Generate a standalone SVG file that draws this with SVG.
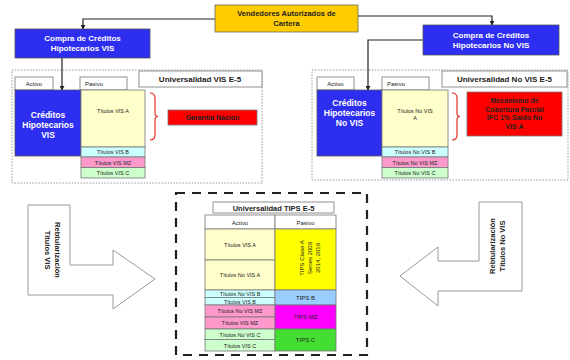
<svg xmlns="http://www.w3.org/2000/svg" width="570" height="360" viewBox="0 0 570 360">
<defs>
<marker id="ah" viewBox="0 0 6 6" refX="5" refY="3" markerWidth="5" markerHeight="5" orient="auto" markerUnits="userSpaceOnUse"><path d="M0,0 L6,3 L0,6 z" fill="#222"/></marker>
</defs>
<style>
text{font-family:"Liberation Sans",Arial,sans-serif;}
.b{font-weight:bold;}
.blue{fill:#2e2ef0;stroke:#555;stroke-width:0.8;}
.wt{fill:#fff;font-weight:bold;text-anchor:middle;}
.dt{fill:#222;text-anchor:middle;}
.cell{stroke:#777;stroke-width:0.8;}
.tab{fill:#fff;stroke:#777;stroke-width:0.8;}
.dot{fill:none;stroke:#999;stroke-width:1;stroke-dasharray:1.5,1.5;}
.conn{fill:none;stroke:#222;stroke-width:1.2;}
.ya{fill:#ffffcc;}.cb{fill:#ccffff;}.pm{fill:#ff99cc;}.gc{fill:#ccffcc;}
.brace{fill:none;stroke:#e03020;stroke-width:1.2;}
.arrowshape{fill:#fff;stroke:#999;stroke-width:1;}
</style>
<rect width="570" height="360" fill="#fff"/>

<g id="connectors">
<path class="conn" d="M215,19 H83 V29" marker-end="url(#ah)"/>
<path class="conn" d="M358,16 H492 V25" marker-end="url(#ah)"/>
<path class="conn" d="M62,58 V90" stroke-width="2" marker-end="url(#ah)"/>
<path class="conn" d="M423,40 H368 V90" marker-end="url(#ah)"/>
</g>

<g id="vendedores">
<rect x="215" y="5" width="143" height="27" fill="#ffcc00" stroke="#666" stroke-width="0.8"/>
<text class="dt b" x="286.5" y="16" font-size="7.5">Vendedores Autorizados de</text>
<text class="dt b" x="286.5" y="26" font-size="7.5">Cartera</text>
</g>

<g id="compra-vis">
<rect class="blue" x="15" y="29" width="135" height="29"/>
<text class="wt" x="82.5" y="41" font-size="8">Compra de Créditos</text>
<text class="wt" x="82.5" y="51" font-size="8">Hipotecarios VIS</text>
</g>

<g id="compra-novis">
<rect class="blue" x="423" y="25" width="136" height="30"/>
<text class="wt" x="491" y="37.5" font-size="8">Compra de Créditos</text>
<text class="wt" x="491" y="47.5" font-size="8">Hipotecarios No VIS</text>
</g>

<g id="universalidad-vis">
<rect class="dot" x="12" y="70" width="250" height="113"/>
<rect class="tab" x="15" y="77" width="38" height="13"/>
<text class="dt" x="34" y="86" font-size="6">Activo</text>
<rect class="tab" x="80" y="77" width="47" height="13"/>
<text class="dt" x="94" y="86" font-size="6">Pasivo</text>
<rect x="139" y="71" width="123" height="16" fill="#fff" stroke="#777" stroke-width="0.8"/>
<text class="dt b" x="200" y="82" font-size="8">Universalidad VIS E-5</text>
<rect class="blue" x="15" y="90" width="66" height="66"/>
<text class="wt" x="48" y="118" font-size="8.5">Créditos</text>
<text class="wt" x="48" y="128" font-size="8.5">Hipotecarios</text>
<text class="wt" x="48" y="138" font-size="8.5">VIS</text>
<rect class="cell ya" x="81" y="90" width="64" height="57"/>
<text class="dt" x="113" y="113" font-size="5.5">Títulos VIS A</text>
<rect class="cell cb" x="81" y="147" width="64" height="10"/>
<text class="dt" x="113" y="154" font-size="5.5">Títulos VIS B</text>
<rect class="cell pm" x="81" y="157" width="64" height="10.5"/>
<text class="dt" x="113" y="164.5" font-size="5.5">Títulos VIS MZ</text>
<rect class="cell gc" x="81" y="167.5" width="64" height="10.5"/>
<text class="dt" x="113" y="175" font-size="5.5">Títulos VIS C</text>
<path class="brace" d="M150,93 Q155,93 155,98 V113 Q155,116.5 158,116.5 Q155,116.5 155,120 V135 Q155,140 150,140"/>
<rect x="168" y="110" width="89" height="15" fill="#ff0000" stroke="#777" stroke-width="0.8"/>
<text class="dt b" x="212.5" y="120" font-size="7" fill="#550000">Garantía Nación</text>
</g>

<g id="universalidad-novis">
<rect class="dot" x="312" y="70" width="256" height="110"/>
<rect class="tab" x="317" y="77" width="37" height="13"/>
<text class="dt" x="335.5" y="86" font-size="6">Activo</text>
<rect class="tab" x="382" y="77" width="47" height="13"/>
<text class="dt" x="396" y="86" font-size="6">Pasivo</text>
<rect x="442" y="71" width="125" height="16" fill="#fff" stroke="#777" stroke-width="0.8"/>
<text class="dt b" x="504.5" y="82" font-size="8">Universalidad No VIS E-5</text>
<rect class="blue" x="317" y="90" width="65" height="66"/>
<text class="wt" x="349.5" y="106" font-size="8.5">Créditos</text>
<text class="wt" x="349.5" y="116" font-size="8.5">Hipotecarios</text>
<text class="wt" x="349.5" y="126" font-size="8.5">No VIS</text>
<rect class="cell ya" x="382" y="90" width="66" height="57"/>
<text class="dt" x="415" y="113" font-size="5.5">Títulos No VIS</text>
<text class="dt" x="415" y="120" font-size="5.5">A</text>
<rect class="cell cb" x="382" y="147" width="66" height="10"/>
<text class="dt" x="415" y="154" font-size="5.5">Títulos No VIS B</text>
<rect class="cell pm" x="382" y="157" width="66" height="10.5"/>
<text class="dt" x="415" y="164.5" font-size="5.5">Títulos No VIS MZ</text>
<rect class="cell gc" x="382" y="167.5" width="66" height="10.5"/>
<text class="dt" x="415" y="175" font-size="5.5">Títulos No VIS C</text>
<path class="brace" d="M452,93 Q457,93 457,98 V113 Q457,116.5 460,116.5 Q457,116.5 457,120 V135 Q457,140 452,140"/>
<rect x="467" y="92" width="95" height="44" fill="#ff0000" stroke="#777" stroke-width="0.8"/>
<text class="dt b" x="514.5" y="103" font-size="7" fill="#550000">Mecanismo de</text>
<text class="dt b" x="514.5" y="111.5" font-size="7" fill="#550000">Cobertura Parcial</text>
<text class="dt b" x="514.5" y="120" font-size="7" fill="#550000">IFC 1% Saldo No</text>
<text class="dt b" x="514.5" y="128.5" font-size="7" fill="#550000">VIS A</text>
</g>

<g id="universalidad-tips">
<rect x="176" y="193" width="191" height="162" fill="none" stroke="#222" stroke-width="2.2" stroke-dasharray="9,7"/>
<rect x="213" y="202" width="121" height="11" fill="#fff" stroke="#777" stroke-width="0.8"/>
<text class="dt b" x="273.5" y="210.5" font-size="7.5">Universalidad TIPS E-5</text>
<rect class="cell" x="205" y="215" width="70" height="14" fill="#fff"/>
<rect class="cell" x="275" y="215" width="61" height="14" fill="#fff"/>
<text class="dt" x="240" y="224.5" font-size="6">Activo</text>
<text class="dt" x="305.5" y="224.5" font-size="6">Pasivo</text>
<rect class="cell ya" x="205" y="229" width="70" height="31"/>
<text class="dt" x="240" y="247" font-size="5.5">Títulos VIS A</text>
<rect class="cell ya" x="205" y="260" width="70" height="30"/>
<text class="dt" x="240" y="277" font-size="5.5">Títulos No VIS A</text>
<rect class="cell cb" x="205" y="290" width="70" height="7.5"/>
<text class="dt" x="240" y="296" font-size="5.5">Títulos No VIS B</text>
<rect class="cell cb" x="205" y="297.5" width="70" height="7.5"/>
<text class="dt" x="240" y="303.5" font-size="5.5">Títulos VIS B</text>
<rect class="cell pm" x="205" y="305" width="70" height="12"/>
<text class="dt" x="240" y="313" font-size="5.5">Títulos No VIS MZ</text>
<rect class="cell pm" x="205" y="317" width="70" height="12"/>
<text class="dt" x="240" y="325" font-size="5.5">Títulos VIS MZ</text>
<rect class="cell gc" x="205" y="329" width="70" height="10.5"/>
<text class="dt" x="240" y="336.5" font-size="5.5">Títulos No VIS C</text>
<rect class="cell gc" x="205" y="339.5" width="70" height="11.5"/>
<text class="dt" x="240" y="347.5" font-size="5.5">Títulos VIS C</text>
<rect class="cell" x="275" y="229" width="61" height="61" fill="#ffff00"/>
<g transform="translate(310,258) rotate(-90)" font-size="6">
<text class="dt" x="0" y="-6">TIPS Clase A</text>
<text class="dt" x="0" y="2">Series 2009</text>
<text class="dt" x="0" y="10">2014, 2019</text>
</g>
<rect class="cell" x="275" y="290" width="61" height="15" fill="#99ccff"/>
<text class="dt" x="305.5" y="300" font-size="6">TIPS B</text>
<rect class="cell" x="275" y="305" width="61" height="24" fill="#ff00ff"/>
<text class="dt" x="305.5" y="319" font-size="6">TIPS MZ</text>
<rect class="cell" x="275" y="329" width="61" height="22" fill="#44dd33"/>
<text class="dt" x="305.5" y="342" font-size="6">TIPS C</text>
</g>

<g id="retitularizacion-vis">
<polygon class="arrowshape" points="28,205 70,205 70,265 113,265 113,250 155,279 113,309 113,295 28,295"/>
<g transform="translate(50,250) rotate(90)" font-size="7.5">
<text class="dt b" x="0" y="-5">Rebtularización</text>
<text class="dt b" x="0" y="5">Títulos VIS</text>
</g>
</g>

<g id="retitularizacion-novis">
<polygon class="arrowshape" points="522,202 479,202 479,261 438,261 438,247 400,276 438,306 438,291 522,291"/>
<g transform="translate(500,246) rotate(-90)" font-size="7.5">
<text class="dt b" x="0" y="-5">Rebtularización</text>
<text class="dt b" x="0" y="5">Títulos No VIS</text>
</g>
</g>
</svg>
